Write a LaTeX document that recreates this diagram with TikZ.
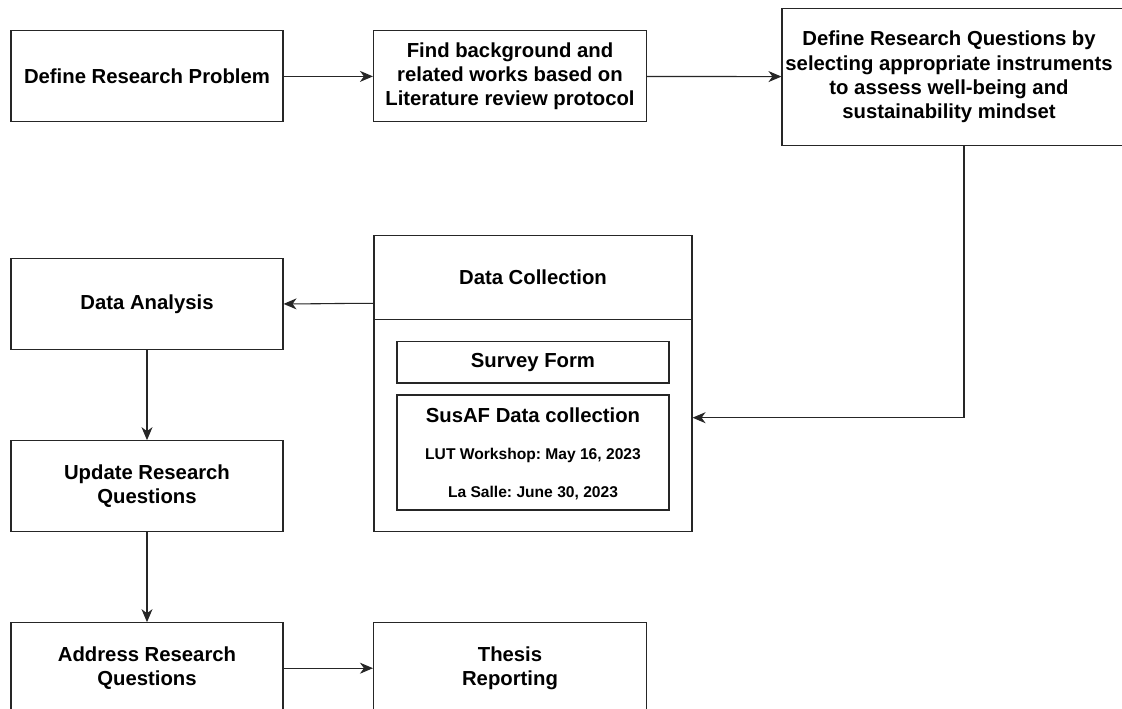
\documentclass[tikz,border=0pt]{standalone}
\usepackage{fontspec}
\setmainfont{Liberation Sans}
\usetikzlibrary{arrows.meta}
\frenchspacing
\tikzset{
  box/.style={draw=black!85, line width=1.1pt, fill=white, inner sep=0pt, minimum width=272pt, minimum height=91pt, align=center, font=\fontsize{20.3}{24.3}\selectfont\bfseries},
  txt/.style={inner sep=0pt, align=center, font=\fontsize{20.3}{24.3}\selectfont\bfseries},
  small/.style={inner sep=0pt, align=center, font=\fontsize{15.6}{18}\selectfont\bfseries},
  conn/.style={draw=black!85, line width=1.1pt, -{Stealth[length=13pt,width=11pt,inset=4pt]}}
}
\begin{document}
\frenchspacing
\begin{tikzpicture}[x=1pt,y=-1pt]
\clip (0,0) rectangle (1122,709);
\fill[white] (0,0) rectangle (1122,709);
% top row
\node[box] (drp) at (147,76.4) {Define Research Problem};
\node[box, minimum width=273pt] (lit) at (510,76.4) {Find background and\\related works based on\\Literature review protocol};
\node[box, minimum width=364pt, minimum height=137pt] (rq) at (964,76.7) {};
\node[txt] (rqt) at (949,77) {Define Research Questions by\\selecting appropriate instruments\\to assess well-being and\\sustainability mindset};
% data collection container
\node[box, minimum width=318pt, minimum height=296pt] (dc) at (533,383.7) {};
\node[txt] (dct) at (533,277) {Data Collection};
\draw[draw=black!85, line width=1.1pt] ([yshift=-84.3pt]dc.north west) coordinate (dcl) -- ([yshift=-84.3pt]dc.north east) coordinate (dcr);
\node[box, minimum height=41.3pt] (sf) at (533,362.3) {Survey Form};
\node[box, minimum height=115pt] (sus) at (533,452.5) {};
\node[txt] (sust) at (533,415) {SusAF Data collection};
\node[small] (lut) at (533,455.5) {LUT Workshop: May 16, 2023};
\node[small] (ls) at (533,493) {La Salle: June 30, 2023};
% left column
\node[box] (da) at (147,303.9) {Data Analysis};
\node[box] (urq) at (147,486.2) {Update Research\\Questions};
\node[box] (arq) at (147,668.2) {Address Research\\Questions};
\node[box, minimum width=273pt] (tr) at (510,668.2) {Thesis\\Reporting};
% connectors
\draw[conn] (drp) -- (lit);
\draw[conn] (lit) -- (rq);
\draw[conn] (rq.south) |- ([yshift=-34pt]dc.east);
\draw[conn] ([yshift=80.4pt]dc.west) .. controls +(-30,0) and +(30,0) .. (da.east);
\draw[conn] (da) -- (urq);
\draw[conn] (urq) -- (arq);
\draw[conn] (arq) -- (tr);
\end{tikzpicture}
\end{document}
